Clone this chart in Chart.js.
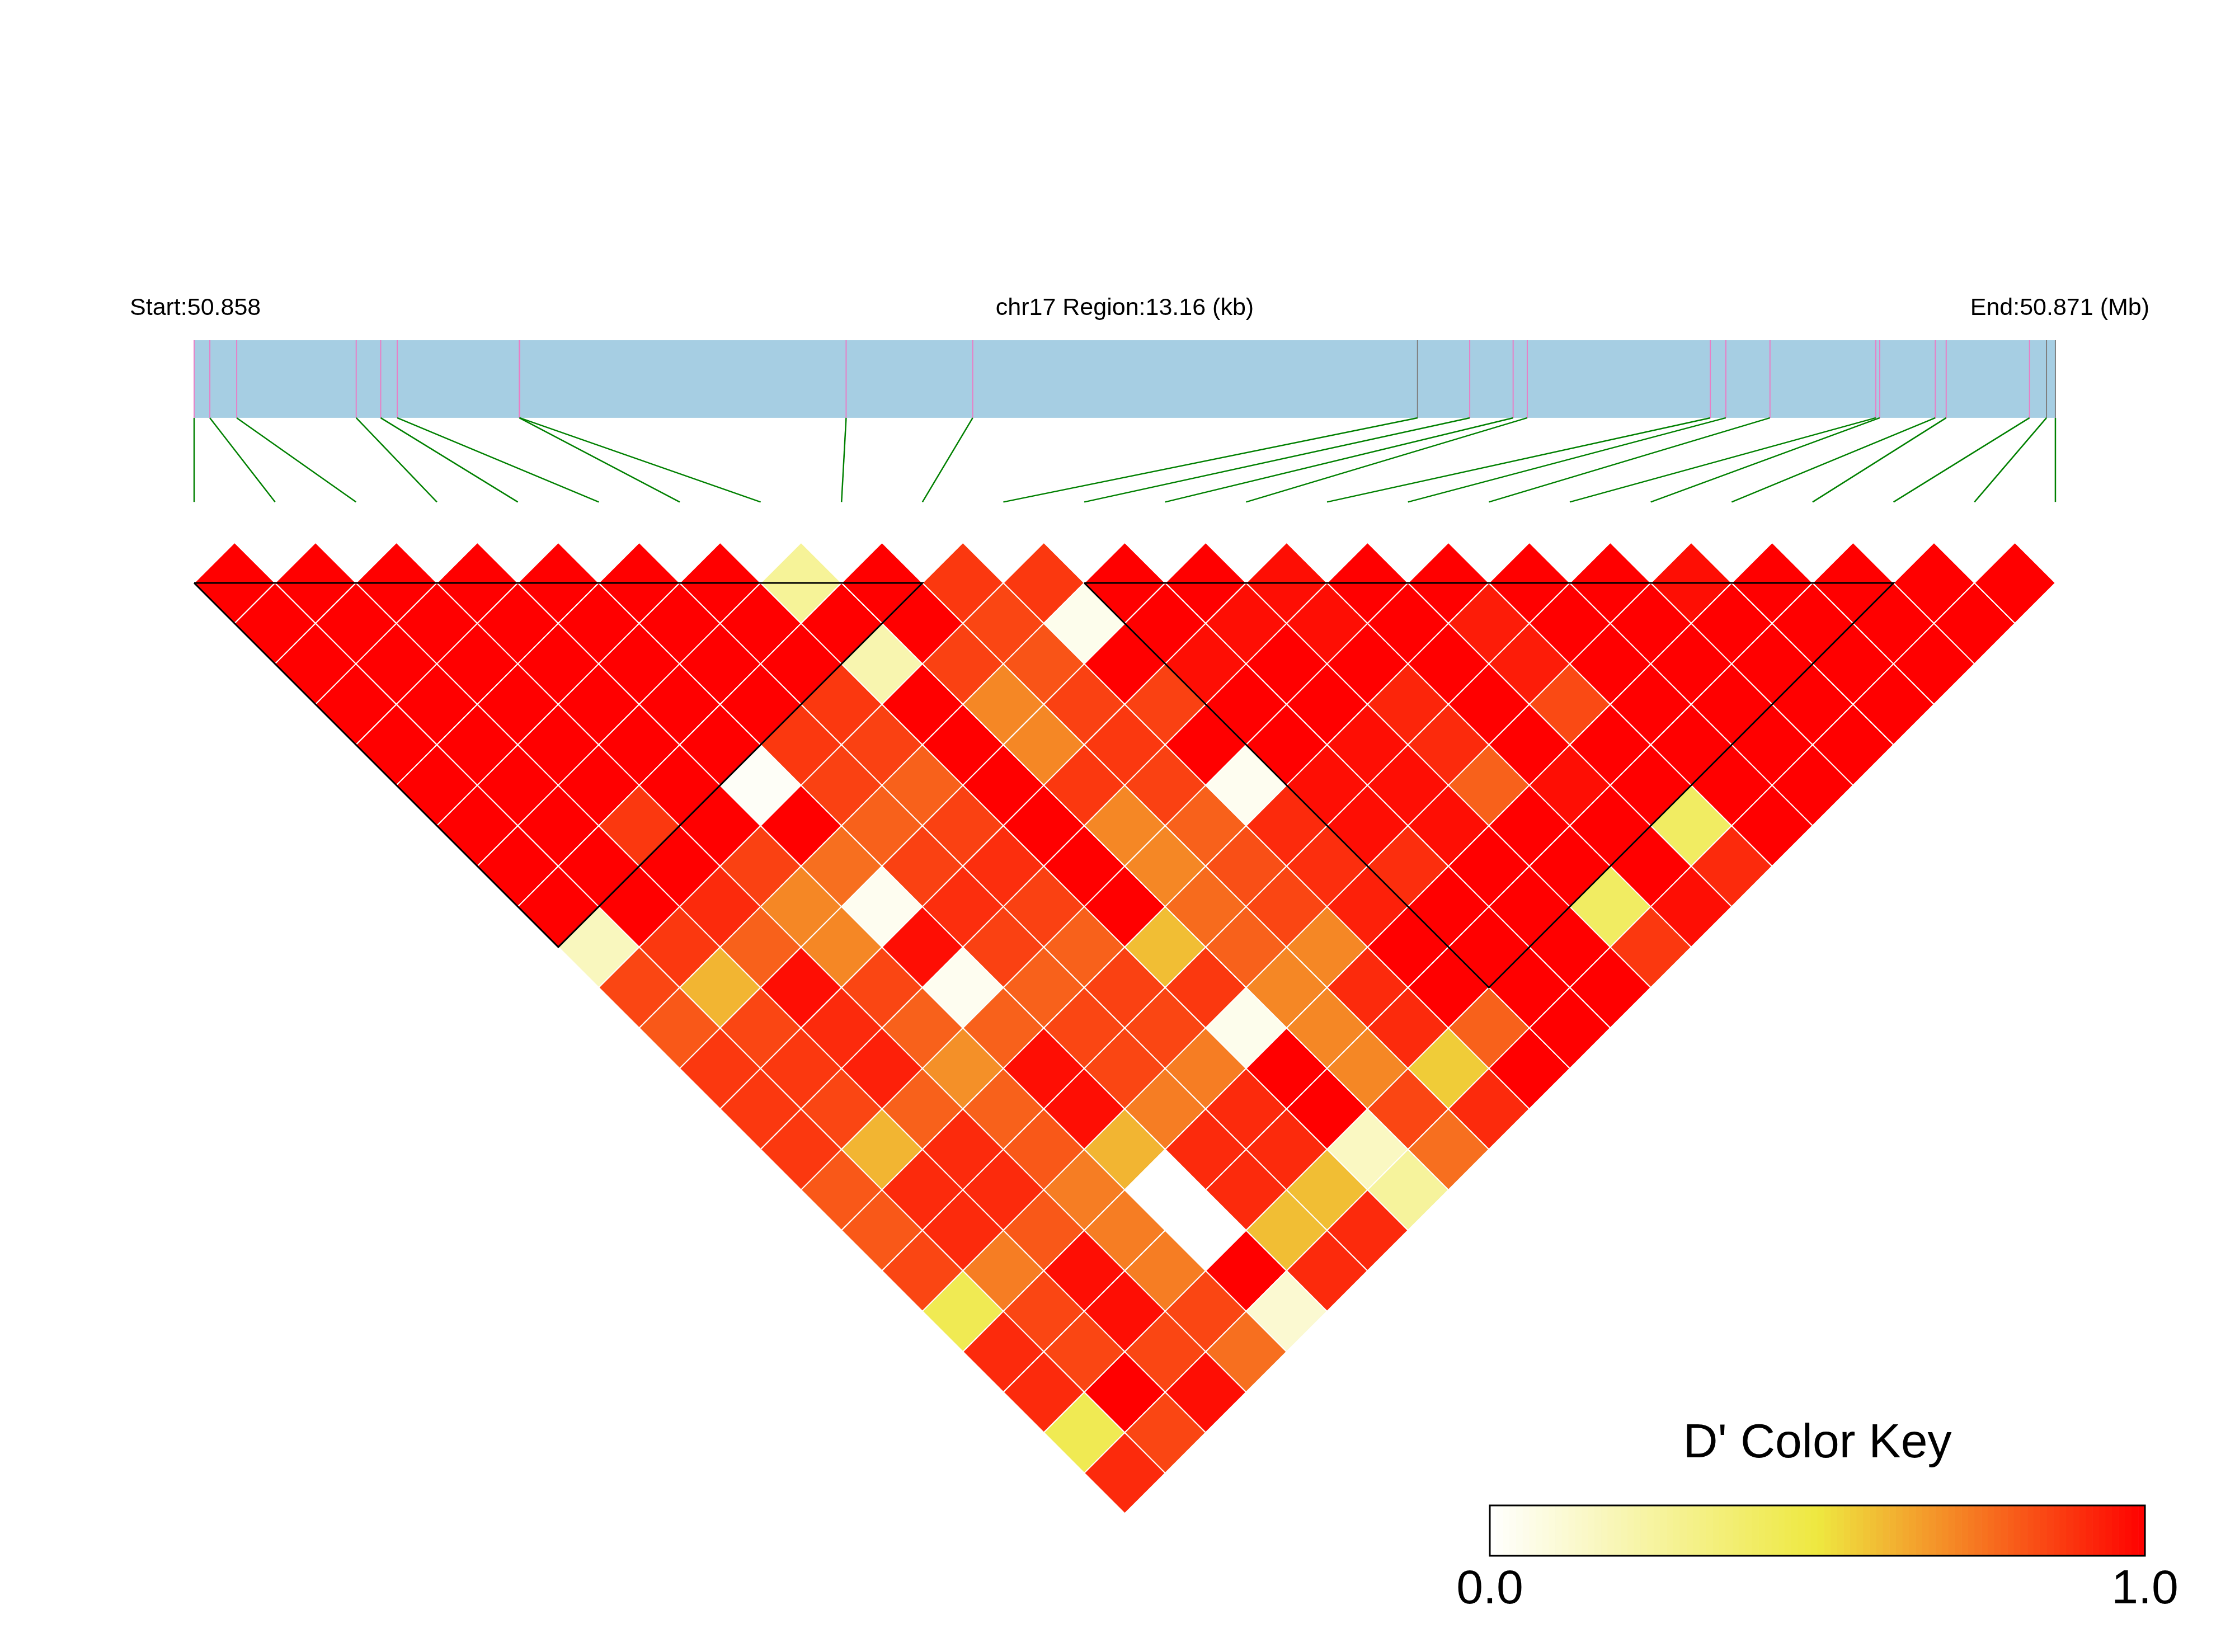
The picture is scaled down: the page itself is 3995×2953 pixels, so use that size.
<!DOCTYPE html>
<html>
<head>
<meta charset="utf-8">
<script src="https://cdn.jsdelivr.net/npm/chart.js@4.4.0/dist/chart.umd.min.js"></script>
<style>
  html, body { margin: 0; padding: 0; background: #ffffff; }
  canvas { display: block; }
</style>
</head>
<body>
<canvas id="ld" width="3995" height="2953"></canvas>
<script>
// ---------------- data ----------------
const chromosome = 'chr17';
const regionStartBp = 50857800;
const regionEndBp = 50870960;
// SNP positions, bp offset from region start
const snpOffsetsBp = [0, 111, 301, 1146, 1319, 1436, 2299, 2302, 4610, 5505, 8650, 9019,
                      9326, 9426, 10720, 10830, 11142, 11890, 11918, 12311, 12388, 12977, 13097, 13160];
// SNPs drawn with the grey track mark
const greyMarkedSnps = [10, 22, 23];
// LD blocks (first SNP index, last SNP index)
const ldBlocks = [[0, 9], [11, 21]];
// pairwise D' : row i holds SNP i against SNP i+1 ... SNP 23
const dprimeRows = [
  [1,1,1,1,1,1,1,1,1,0.17,0.85,0.81,0.88,0.88,0.88,0.81,0.81,0.85,0.45,0.91,0.91,0.45,0.91],
  [1,1,1,1,1,1,1,1,1,0.88,0.61,0.85,0.88,0.85,0.61,0.91,0.91,0.73,0.85,0.85,1,0.85],
  [1,1,1,1,1,1,0.88,1,0.91,0.79,0.97,0.91,0.93,0.79,0.91,0.91,0.81,0.97,0.97,0.85,0.97],
  [1,1,1,1,1,1,1,0.86,0.71,0.71,0.85,0.79,0.69,0.79,0.81,0.73,0.73,0.73,0.85,0.76],
  [1,1,1,1,1,0.02,1,0.76,0.04,0.97,0.04,0.79,0.97,0.97,0.61,0,0,1,0.12],
  [1,1,1,1,0.88,0.86,0.79,0.86,0.9,0.86,0.79,0.85,0.85,0.73,0.91,0.91,0.59,0.91],
  [1,1,1,0.88,0.86,0.79,0.86,0.9,0.86,0.79,0.86,0.85,0.73,0.91,0.91,0.59,0.91],
  [0.27,1,0.21,1,1,1,1,1,1,0.59,0.88,0.05,1,1,0.16,0.26],
  [1,1,0.86,0.71,0.71,0.88,0.71,0.71,0.77,0.79,0.71,0.71,0.71,0.85,0.76],
  [0.88,0.85,0.82,0.86,0.88,0.86,0.79,0.83,0.85,0.71,0.91,0.91,0.56,0.91],
  [0.88,0.05,1,0.86,1,0.04,0.91,0.9,0.93,1,1,0.79,1],
  [1,1,0.97,1,1,0.97,0.97,0.9,1,1,1,1],
  [1,0.97,1,1,0.97,0.97,0.97,1,1,1,1],
  [0.97,0.97,1,0.92,0.91,0.79,1,1,0.41,0.88],
  [1,1,1,1,1,0.97,1,1,0.97],
  [1,0.94,0.94,0.84,1,1,0.41,0.91],
  [1,1,1,1,1,1,1],
  [1,1,1,1,1,1],
  [0.97,1,1,1,1],
  [1,1,1,1],
  [1,1,1],
  [1,1],
  [1]
];
const keyTickLabels = ['0.0', '1.0'];
const keyTitle = "D' Color Key";

// ---------------- layout (pixels / scale units) ----------------
const W = 3995, H = 2953;
const SNP0_PX = 347;       // x pixel of first SNP
const UNIT = 144.65;       // pixels per SNP step
const ROW0_PX = 1042;      // y pixel of the top row of cells
const TRACK_TOP = -3.0, TRACK_BOTTOM = -2.04, LINK_BOTTOM = -1.0, TEXT_BASE = -3.31;
const N = snpOffsetsBp.length;
const regionLen = regionEndBp - regionStartBp;

function physU(k) { return snpOffsetsBp[k] / regionLen * (N - 1); }

function dprimeColor(v) {
  const low = [255, 255, 255], mid = [238, 232, 64], high = [255, 0, 0];
  let a, b, t;
  if (v <= 0.5) { a = low; b = mid; t = v / 0.5; } else { a = mid; b = high; t = (v - 0.5) / 0.5; }
  const c = a.map((x, n) => Math.round(x + (b[n] - x) * t));
  return 'rgb(' + c.join(',') + ')';
}

// heatmap cells
const cellPoints = [], cellColors = [];
dprimeRows.forEach((row, i) => {
  row.forEach((v, k) => {
    const j = i + 1 + k;
    cellPoints.push({ x: (i + j) / 2, y: (j - i - 1) / 2 });
    cellColors.push(dprimeColor(v));
  });
});

const datasets = [];
// block outlines (on top)
ldBlocks.forEach(([a, b]) => {
  datasets.push({
    data: [{ x: a, y: 0 }, { x: b, y: 0 }, { x: (a + b) / 2, y: (b - a) / 2 }, { x: a, y: 0 }],
    showLine: true, borderColor: '#000000', borderWidth: 3, pointRadius: 0, order: 0, clip: false
  });
});
// connector lines
for (let k = 0; k < N; k++) {
  datasets.push({
    data: [{ x: physU(k), y: TRACK_BOTTOM }, { x: k, y: LINK_BOTTOM }],
    showLine: true, borderColor: '#008000', borderWidth: 2.5, pointRadius: 0, order: 2, clip: false
  });
}
// SNP marks on the track
for (let k = 0; k < N; k++) {
  datasets.push({
    data: [{ x: physU(k), y: TRACK_TOP }, { x: physU(k), y: TRACK_BOTTOM }],
    showLine: true, borderColor: greyMarkedSnps.includes(k) ? '#7f7f7f' : '#e87fc6',
    borderWidth: 2, pointRadius: 0, order: 3, clip: false
  });
}
// heatmap
datasets.push({
  data: cellPoints,
  pointStyle: 'rectRot',
  pointRadius: (ctx) => {
    const s = ctx.chart.scales && ctx.chart.scales.x;
    if (!s || !s.width) return UNIT / 2;
    return (s.getPixelForValue(1) - s.getPixelForValue(0)) / 2;
  },
  pointBackgroundColor: cellColors,
  pointBorderColor: '#ffffff',
  pointBorderWidth: 2,
  showLine: false,
  order: 10,
  clip: false
});

const FONT = '"Liberation Sans", Arial, Helvetica, sans-serif';

const decorPlugin = {
  id: 'decor',
  beforeDatasetsDraw(chart) {
    const { ctx, scales: { x, y } } = chart;
    const left = x.getPixelForValue(0), right = x.getPixelForValue(N - 1);
    const top = y.getPixelForValue(TRACK_TOP), bottom = y.getPixelForValue(TRACK_BOTTOM);
    ctx.save();
    ctx.fillStyle = '#a6cee3';
    ctx.fillRect(left, top, right - left, bottom - top);
    ctx.restore();
  },
  afterDraw(chart) {
    const { ctx, scales: { x, y } } = chart;
    ctx.save();
    ctx.fillStyle = '#000000';
    ctx.textBaseline = 'alphabetic';
    ctx.font = '43px ' + FONT;
    const base = y.getPixelForValue(TEXT_BASE);
    ctx.textAlign = 'left';
    ctx.fillText('Start:' + (regionStartBp / 1e6).toFixed(3), 232, base);
    ctx.textAlign = 'center';
    ctx.fillText(chromosome + ' Region:' + (regionLen / 1000).toFixed(2) + ' (kb)',
                 (x.getPixelForValue(0) + x.getPixelForValue(N - 1)) / 2, base);
    ctx.textAlign = 'right';
    ctx.fillText('End:' + (regionEndBp / 1e6).toFixed(3) + ' (Mb)', 3842, base);

    // colour key
    const kx0 = 2663, kx1 = 3834, ky0 = 2691, ky1 = 2781;
    const bands = 100;
    const bw = (kx1 - kx0) / bands;
    for (let b = 0; b < bands; b++) {
      ctx.fillStyle = dprimeColor((b + 0.5) / bands);
      ctx.fillRect(kx0 + b * bw, ky0, bw + 0.6, ky1 - ky0);
    }
    ctx.strokeStyle = '#000000';
    ctx.lineWidth = 3;
    ctx.strokeRect(kx0, ky0, kx1 - kx0, ky1 - ky0);
    ctx.fillStyle = '#000000';
    ctx.font = '86px ' + FONT;
    ctx.textAlign = 'center';
    ctx.fillText(keyTitle, (kx0 + kx1) / 2, 2605);
    ctx.fillText(keyTickLabels[0], kx0, 2866);
    ctx.fillText(keyTickLabels[1], kx1, 2866);
    ctx.restore();
  }
};

new Chart(document.getElementById('ld'), {
  type: 'scatter',
  data: { datasets },
  options: {
    responsive: false,
    devicePixelRatio: 1,
    animation: false,
    events: [],
    layout: { padding: 0, autoPadding: false },
    plugins: { legend: { display: false }, tooltip: { enabled: false }, title: { display: false } },
    scales: {
      x: { type: 'linear', display: false, min: -SNP0_PX / UNIT, max: (W - SNP0_PX) / UNIT,
           grid: { display: false }, ticks: { display: false } },
      y: { type: 'linear', display: false, reverse: true, min: -ROW0_PX / UNIT, max: (H - ROW0_PX) / UNIT,
           grid: { display: false }, ticks: { display: false } }
    }
  },
  plugins: [decorPlugin]
});
</script>
</body>
</html>
